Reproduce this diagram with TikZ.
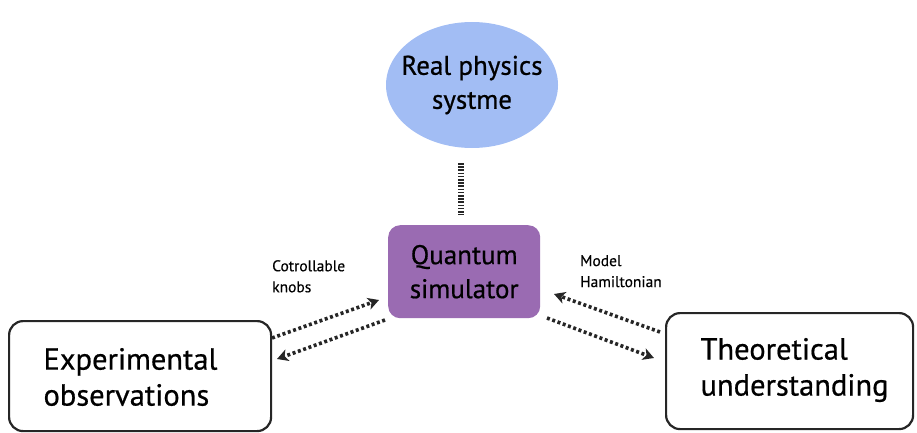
\documentclass[tikz,border=0pt]{standalone}
\usepackage{fontspec}
\setmainfont{PT Sans}[FakeBold=0.4]
\newfontfamily\heavy{PT Sans}[FakeBold=0.6]
\usetikzlibrary{shapes.geometric,arrows.meta}
\definecolor{skyb}{HTML}{A2BDF4}
\definecolor{purp}{HTML}{9A6BB2}
\begin{document}
\begin{tikzpicture}[x=1pt,y=-1pt,
  bigtxt/.style={font=\heavy\fontsize{27}{34}\selectfont, align=center},
  boxtxt/.style={font=\heavy\fontsize{30.5}{36}\selectfont, align=left},
  smalltxt/.style={font=\fontsize{15.5}{21}\selectfont, align=left, anchor=north west, inner sep=0pt},
  outbox/.style={draw=black!85, line width=2.2pt, rounded corners=14pt},
  dots/.style={line width=3.6pt, dash pattern=on 3pt off 2.6pt, black!85},
  dotarrow/.style={dots, -{Stealth[length=11pt,width=12pt,inset=3pt]}}]
\useasboundingbox (0,0) rectangle (917,433);
\node[ellipse, fill=skyb, minimum width=172pt, minimum height=126pt, inner sep=0pt] (real) at (472,85) {};
\node[bigtxt] (realtxt) at (real.center) {Real physics\\systme};
\node[fill=purp, rounded corners=12pt, minimum width=152pt, minimum height=93pt, anchor=north west] (qs) at (388,225) {};
\node[bigtxt] (qstxt) at (qs.center) {Quantum\\simulator};
\node[outbox, minimum width=262pt, minimum height=110pt, anchor=north west] (exp) at (8,320) {};
\node[boxtxt, anchor=west] (exptxt) at (40,377) {Experimental\\observations};
\node[outbox, minimum width=247pt, minimum height=116pt, anchor=north west] (theo) at (665,312) {};
\node[boxtxt, anchor=west] (theotxt) at (697,370) {Theoretical\\understanding};
\coordinate (vtop) at (461,163);
\coordinate (vbot) at (461,215);
\draw[line width=6pt, dash pattern=on 1.6pt off 1.6pt, black!85] (vtop) -- (vbot);
\coordinate (a1s) at (272,338); \coordinate (a1e) at (379,300);
\coordinate (a2s) at (385,320); \coordinate (a2e) at (277,359);
\coordinate (b1s) at (660,332); \coordinate (b1e) at (554,294);
\coordinate (b2s) at (547,318); \coordinate (b2e) at (654,358);
\draw[dotarrow] (a1s) -- (a1e);
\draw[dotarrow] (a2s) -- (a2e);
\draw[dotarrow] (b1s) -- (b1e);
\draw[dotarrow] (b2s) -- (b2e);
\node[smalltxt] (knobs) at (272,260) {Cotrollable\\knobs};
\node[smalltxt] (ham) at (580,255) {Model\\Hamiltonian};
\end{tikzpicture}
\end{document}
